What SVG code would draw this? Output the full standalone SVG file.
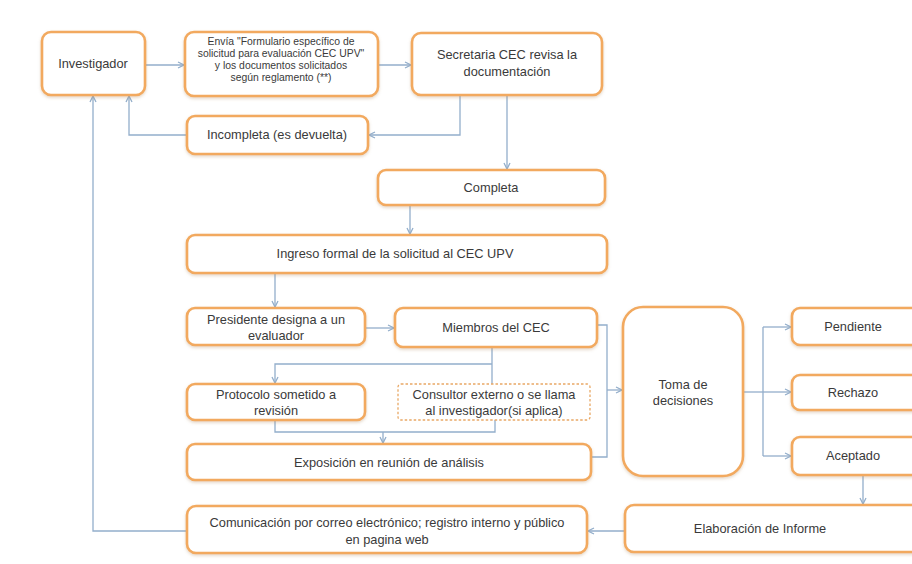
<svg xmlns="http://www.w3.org/2000/svg" width="912" height="564" viewBox="0 0 912 564">
<defs>
<style>
.box{fill:#ffffff;stroke:#F2A95E;stroke-width:2.6;filter:url(#sh)}
.dash{fill:#ffffff;stroke:#E9A865;stroke-width:1.3;stroke-dasharray:2.5 2}
.t{font-family:"Liberation Sans",Arial,sans-serif;font-size:12.8px;fill:#3a3a3a;text-anchor:middle}
.s{font-size:10.4px}
.c{fill:none;stroke:#93AECB;stroke-width:1.3}
</style>
<filter id="sh" x="-10%" y="-10%" width="120%" height="130%">
<feDropShadow dx="0" dy="1.5" stdDeviation="1.5" flood-color="#b08a60" flood-opacity="0.35"/>
</filter>
<marker id="a" markerWidth="8" markerHeight="8" refX="7" refY="4" orient="auto" markerUnits="userSpaceOnUse">
<path d="M1,1 L7,4 L1,7" fill="none" stroke="#93AECB" stroke-width="1.3"/>
</marker>
</defs>
<rect width="912" height="564" fill="#ffffff"/>
<g id="connectors">
<path class="c" d="M145,65 H184" marker-end="url(#a)"/>
<path class="c" d="M378,65 H411" marker-end="url(#a)"/>
<path class="c" d="M460,95 V135 H369" marker-end="url(#a)"/>
<path class="c" d="M187,135 H129 V96" marker-end="url(#a)"/>
<path class="c" d="M507,95 V169" marker-end="url(#a)"/>
<path class="c" d="M410,205 V234" marker-end="url(#a)"/>
<path class="c" d="M275,273 V307" marker-end="url(#a)"/>
<path class="c" d="M365,328 H394" marker-end="url(#a)"/>
<path class="c" d="M492,347 V384"/>
<path class="c" d="M492,364 H275 V383" marker-end="url(#a)"/>
<path class="c" d="M275,420 V432 H495 V420"/>
<path class="c" d="M383,432 V443" marker-end="url(#a)"/>
<path class="c" d="M597,325 H607 V457 H591"/>
<path class="c" d="M607,390 H622" marker-end="url(#a)"/>
<path class="c" d="M743,392 H763"/>
<path class="c" d="M763,327 V456"/>
<path class="c" d="M763,327 H791" marker-end="url(#a)"/>
<path class="c" d="M763,392 H791" marker-end="url(#a)"/>
<path class="c" d="M763,456 H791" marker-end="url(#a)"/>
<path class="c" d="M863,475 V504" marker-end="url(#a)"/>
<path class="c" d="M625,531 H588" marker-end="url(#a)"/>
<path class="c" d="M187,531 H93 V96" marker-end="url(#a)"/>
</g>
<g id="investigador"><rect class="box" x="42" y="32" width="103" height="63" rx="9"/><text class="t" x="93" y="68">Investigador</text></g>
<g id="envia"><rect class="box" x="185" y="32" width="193" height="64" rx="9"/>
<text class="t s" x="281" y="45">Envía "Formulario específico de</text>
<text class="t s" x="281" y="57">solicitud para evaluación CEC UPV"</text>
<text class="t s" x="281" y="69">y los documentos solicitados</text>
<text class="t s" x="281" y="81">según reglamento (**)</text></g>
<g id="secretaria"><rect class="box" x="412" y="33" width="190" height="62" rx="9"/>
<text class="t" x="507" y="59">Secretaria CEC revisa la</text>
<text class="t" x="507" y="76">documentación</text></g>
<g id="incompleta"><rect class="box" x="187" y="116" width="181" height="38" rx="8"/><text class="t" x="277" y="139">Incompleta (es devuelta)</text></g>
<g id="completa"><rect class="box" x="378" y="170" width="227" height="35" rx="8"/><text class="t" x="491" y="192">Completa</text></g>
<g id="ingreso"><rect class="box" x="187" y="235" width="420" height="38" rx="8"/><text class="t" x="395" y="258">Ingreso formal de la solicitud al CEC UPV</text></g>
<g id="presidente"><rect class="box" x="187" y="308" width="178" height="37" rx="8"/>
<text class="t" x="276" y="324">Presidente designa a un</text><text class="t" x="276" y="340">evaluador</text></g>
<g id="miembros"><rect class="box" x="395" y="308" width="202" height="39" rx="8"/><text class="t" x="496" y="332">Miembros del CEC</text></g>
<g id="protocolo"><rect class="box" x="187" y="384" width="178" height="36" rx="8"/>
<text class="t" x="276" y="399">Protocolo sometido a</text><text class="t" x="276" y="415">revisión</text></g>
<g id="consultor"><rect class="dash" x="398" y="384" width="192" height="36" rx="3"/>
<text class="t" x="494" y="399">Consultor externo o se llama</text><text class="t" x="494" y="415">al investigador(si aplica)</text></g>
<g id="exposicion"><rect class="box" x="187" y="444" width="404" height="36" rx="8"/><text class="t" x="389" y="467">Exposición en reunión de análisis</text></g>
<g id="toma"><rect class="box" x="623" y="307" width="120" height="169" rx="20"/>
<text class="t" x="683" y="389">Toma de</text><text class="t" x="683" y="405">decisiones</text></g>
<g id="pendiente"><rect class="box" x="792" y="308" width="130" height="37" rx="8"/><text class="t" x="853" y="331">Pendiente</text></g>
<g id="rechazo"><rect class="box" x="792" y="375" width="130" height="35" rx="8"/><text class="t" x="853" y="397">Rechazo</text></g>
<g id="aceptado"><rect class="box" x="792" y="437" width="130" height="38" rx="8"/><text class="t" x="853" y="460">Aceptado</text></g>
<g id="elaboracion"><rect class="box" x="625" y="505" width="300" height="47" rx="9"/><text class="t" x="760" y="533">Elaboración de Informe</text></g>
<g id="comunicacion"><rect class="box" x="187" y="506" width="400" height="47" rx="9"/>
<text class="t" x="387" y="527">Comunicación por correo electrónico; registro interno y público</text>
<text class="t" x="387" y="544">en pagina web</text></g>
</svg>
